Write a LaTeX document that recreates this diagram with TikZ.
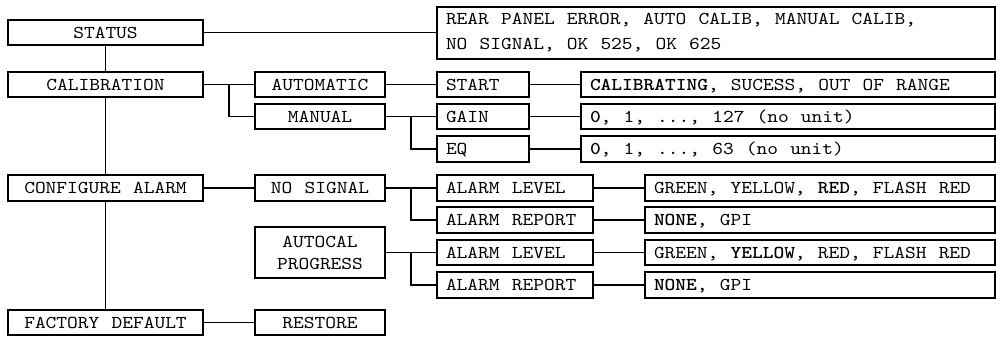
\documentclass[tikz,border=0pt]{standalone}
\usepackage{fontspec}
\setmonofont{lmmono10-regular.otf}[BoldFont=lmmonolt10-bold.otf, FakeStretch=1.13, WordSpace={1.13,0,0}]
\usetikzlibrary{calc}

\tikzset{
  menu/.style={draw, line width=1.1pt, inner sep=0pt, minimum height=0.51cm,
    font=\ttfamily\fontsize{10.3}{12.5}\selectfont,
    execute at begin node={\spaceskip=0pt\xspaceskip=0pt}},
  oneline/.style={text height=6.3pt, text depth=0pt},
  mainbox/.style={menu, oneline, minimum width=3.9cm},
  subbox/.style={menu, oneline, minimum width=2.6cm},
  leafbox/.style={menu, oneline, align=left, inner xsep=0.18cm, text width=#1},
  wire/.style={line width=1.1pt},
}

\begin{document}
\begin{tikzpicture}
    \useasboundingbox (0,0) rectangle (20,-6.74);
    % first column
    \node[mainbox] (status)  at (2.11,-0.65) {STATUS};
    \node[mainbox] (calib)   at (2.11,-1.69) {CALIBRATION};
    \node[mainbox] (config)  at (2.11,-3.76) {CONFIGURE ALARM};
    \node[mainbox] (factory) at (2.11,-6.45) {FACTORY DEFAULT};
    % second column
    \node[subbox] (auto)    at (6.40,-1.69) {AUTOMATIC};
    \node[subbox] (manual)  at (6.40,-2.33) {MANUAL};
    \node[subbox] (nosig)   at (6.40,-3.76) {NO SIGNAL};
    \node[menu, minimum width=2.6cm, minimum height=1.02cm, align=center]
        (autocal) at (6.40,-5.05) {AUTOCAL\\PROGRESS};
    \node[subbox] (restore) at (6.40,-6.45) {RESTORE};
    % third column
    \node[menu, align=left, inner xsep=0.18cm, text width=10.8cm, minimum height=1.04cm]
        (statusval) at (14.32,-0.66) {REAR PANEL ERROR, AUTO CALIB, MANUAL CALIB,\\[1.7pt]NO SIGNAL, OK 525, OK 625};
    \node[leafbox=1.48cm] (start) at (9.66,-1.69) {START};
    \node[leafbox=1.48cm] (gain)  at (9.66,-2.33) {GAIN};
    \node[leafbox=1.48cm] (eq)    at (9.66,-2.98) {EQ};
    \node[leafbox=2.76cm] (level)   at (10.30,-3.76) {ALARM LEVEL};
    \node[leafbox=2.76cm] (report)  at (10.30,-4.40) {ALARM REPORT};
    \node[leafbox=2.76cm] (levelb)  at (10.30,-5.05) {ALARM LEVEL};
    \node[leafbox=2.76cm] (reportb) at (10.30,-5.70) {ALARM REPORT};
    % values
    \node[leafbox=7.92cm] (startval) at (15.76,-1.69) {\textbf{CALIBRATING}, SUCESS, OUT OF RANGE};
    \node[leafbox=7.92cm] (gainval)  at (15.76,-2.33) {\textbf{0}, 1, ..., 127 (no unit)};
    \node[leafbox=7.92cm] (eqval)    at (15.76,-2.98) {\textbf{0}, 1, ..., 63 (no unit)};
    \node[leafbox=6.64cm] (levelval)   at (16.40,-3.76) {GREEN, YELLOW, \textbf{RED}, FLASH RED};
    \node[leafbox=6.64cm] (reportval)  at (16.40,-4.40) {\textbf{NONE}, GPI};
    \node[leafbox=6.64cm] (levelbval)  at (16.40,-5.05) {GREEN, \textbf{YELLOW}, RED, FLASH RED};
    \node[leafbox=6.64cm] (reportbval) at (16.40,-5.70) {\textbf{NONE}, GPI};

    % trunk
    \draw[wire] (status) -- (calib);
    \draw[wire] (calib) -- (config);
    \draw[wire] (config) -- (factory);
    % links
    \draw[wire] (status.east) -- (status.east -| statusval.west);
    \draw[wire] (calib) -- (auto);
    \draw[wire] ($(calib.east)!0.5!(auto.west)$) |- (manual.west);
    \draw[wire] (auto) -- (start);
    \draw[wire] (start) -- (startval);
    \draw[wire] (manual.east) -- (gain.west);
    \draw[wire] ($(manual.east)!0.5!(gain.west)$) |- (eq.west);
    \draw[wire] (gain) -- (gainval);
    \draw[wire] (eq) -- (eqval);
    \draw[wire] (config) -- (nosig);
    \draw[wire] (nosig.east) -- (level.west);
    \draw[wire] ($(nosig.east)!0.5!(level.west)$) |- (report.west);
    \draw[wire] (level) -- (levelval);
    \draw[wire] (report) -- (reportval);
    \draw[wire] (autocal.east) -- (autocal.east -| levelb.west);
    \draw[wire] ($(autocal.east)!0.5!(levelb.west)$) |- (reportb.west);
    \draw[wire] (levelb) -- (levelbval);
    \draw[wire] (reportb) -- (reportbval);
    \draw[wire] (factory) -- (restore);
\end{tikzpicture}
\end{document}
